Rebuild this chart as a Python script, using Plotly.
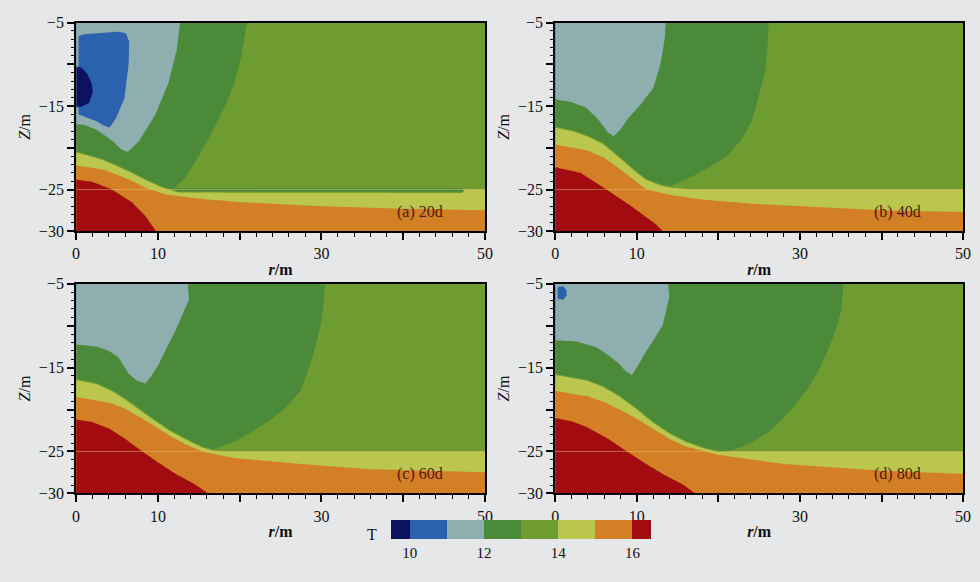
import numpy as np
import plotly.graph_objects as go

# ---------------- data (r in m, Z in m) ----------------
LEVELS = [10, 11, 12, 13, 14, 15, 16]
BAND_COLORS = ["#0c1160", "#2a62ad", "#8eaeb0", "#4b8a38", "#6e9c30",
               "#bac64e", "#d27f26", "#a20c10"]
PANEL_LABELS = ["(a) 20d", "(b) 40d", "(c) 60d", "(d) 80d"]
X_TICKS = [0, 10, 20, 30, 40, 50]
X_TICKTEXT = ["0", "10", "", "30", "", "50"]
Y_TICKS = [-5, -10, -15, -20, -25, -30]
Y_TICKTEXT = ["\u22125", "", "\u221215", "", "\u221225", "\u221230"]
CBAR_TICKS = [10, 12, 14, 16]
INTERFACE_Z = -25

# isolines as (r, Z) points: upper edge of the T>14, T>15, T>16 zones
A_ISO14 = [(0, -20.3), (3.3, -21.4), (6.5, -22.8), (8.5, -23.8), (10.5, -24.7),
           (12.5, -25.3), (47.2, -25.35), (47.6, -25.0), (50, -25.0)]
A_ISO15 = [(0, -22.05), (3.3, -22.6), (6.5, -23.8), (8.5, -24.8), (11, -25.6),
           (15, -26.1), (20, -26.5), (30, -27.0), (40, -27.3), (50, -27.5)]
A_ISO16 = [(0, -23.7), (2, -24.1), (4.2, -24.9), (6.8, -26.5), (8.5, -28.2),
           (10.2, -30.2)]
# closed zones: T<13, T<12, T<11, T<10
A_ZONE13 = [(0, -5), (21, -5), (20.2, -9), (19.2, -12.8), (17.4, -16.6),
            (15.3, -20.5), (13.3, -23.6), (12, -24.85), (47.3, -24.85),
            (47.3, -30), (0, -30)]
A_ZONE12 = [(0, -5), (12.8, -5), (12.3, -8.3), (11.3, -12.2), (9.7, -16.0),
            (7.7, -19.2), (6.3, -20.5), (5.5, -20.2), (4.5, -19.2), (2.45, -17.8),
            (0.8, -17.2), (0, -17.2)]
A_ZONE11 = [(0.3, -6.6), (1, -6.4), (5.2, -6.1), (6.1, -6.3), (6.5, -7.3),
            (6.4, -10.2), (5.9, -14.1), (4.9, -16.4), (4.1, -17.6), (3.3, -17.3),
            (2.45, -16.8), (0.85, -16.2), (0.3, -16.0)]
A_ZONE10 = [(0, -10.2), (0.7, -10.4), (1.4, -11.2), (1.9, -12.3), (2.05, -13.3),
            (1.6, -14.6), (0.6, -15.1), (0, -15.1)]

B_ISO14 = [(0, -17.4), (2.3, -18), (4, -18.6), (5.9, -19.5), (7.5, -20.8),
           (8.8, -21.9), (10, -22.9), (11.2, -23.8), (12.8, -24.4), (14.4, -24.8),
           (17, -25.0), (50, -25.0)]
B_ISO15 = [(0, -19.5), (3.9, -20.3), (6, -21.2), (8, -22.6), (9.6, -23.8),
           (11.2, -25.0), (14.4, -25.7), (18, -26.2), (24.1, -26.7), (32.2, -27.1),
           (40.3, -27.5), (50, -27.7)]
B_ISO16 = [(0, -22.2), (3.1, -23), (6.3, -25), (9.2, -26.9), (12.4, -29.2),
           (13.8, -30.2)]
B_ZONE13 = [(0, -5), (26.2, -5), (26, -8), (25.7, -11), (24.9, -14), (24.1, -16.8),
            (22.7, -19.2), (20.9, -21.1), (18.8, -22.4), (16.9, -23.4),
            (14.4, -24.5), (13, -25), (13, -30), (0, -30)]
B_ZONE12 = [(0, -5), (13.6, -5), (13.4, -7.1), (12.9, -10), (12, -12.9),
            (10.4, -14.9), (9.0, -16.4), (8.0, -17.8), (7.2, -18.6), (6.5, -18.2),
            (5.2, -16.5), (3.8, -15.2), (1.9, -14.5), (0, -14.1)]

C_ISO14 = [(0, -16.3), (2.5, -16.9), (4.5, -17.8), (6.1, -18.8), (7.8, -20.0),
           (9.5, -21.2), (11.5, -22.5), (13.6, -23.6), (15.5, -24.5), (17.4, -25.0),
           (50, -25.0)]
C_ISO15 = [(0, -18.4), (4.1, -19.2), (6, -19.9), (8.1, -21.1), (9.8, -22.1),
           (11.4, -23.1), (13.5, -24.2), (15.4, -25), (19.4, -25.8), (27.5, -26.5),
           (35.5, -27.1), (50, -27.5)]
C_ISO16 = [(0, -21.1), (2, -21.5), (4.1, -22.3), (6, -23.5), (8.1, -25),
           (10, -26.3), (12.2, -27.7), (14.5, -28.9), (17, -30.2)]
C_ZONE13 = [(0, -5), (30.5, -5), (30.2, -8), (29.9, -9.9), (29, -13.5),
            (27.5, -17.7), (25.5, -19.9), (23.4, -21.5), (21.2, -22.8),
            (19.4, -23.8), (17.4, -24.5), (16.5, -25), (16.5, -30), (0, -30)]
C_ZONE12 = [(0, -5), (13.6, -5), (13.8, -6.9), (12.1, -10.7), (11.0, -12.8),
            (10.1, -14.6), (9.2, -16.0), (8.45, -16.9), (7.5, -16.6), (6.4, -15.7),
            (5.2, -13.8), (4, -13), (2.5, -12.5), (0, -12.2)]

D_ISO14 = [(0, -15.7), (3.9, -16.5), (6, -17.3), (7.9, -18.4), (10, -19.9),
           (12, -21.5), (14, -22.8), (16, -23.8), (18, -24.5), (20, -25),
           (50, -25)]
D_ISO15 = [(0, -17.7), (3.9, -18.4), (6, -19.1), (7.9, -20), (10, -21.1),
           (12, -22.3), (14, -23.5), (16, -24.4), (20, -25.4), (28, -26.5),
           (40.2, -27.3), (50, -27.7)]
D_ISO16 = [(0, -20.9), (2, -21.4), (3.9, -22.1), (6.5, -23.5), (8.8, -25),
           (11, -26.4), (13.2, -27.7), (15.6, -28.9), (18, -30.2)]
D_ZONE13 = [(0, -5), (35.4, -5), (35.1, -8), (34.6, -9.9), (33.5, -12.8),
            (32.1, -15.7), (30.8, -17.7), (29.3, -19.6), (27.8, -21.2),
            (26.1, -22.7), (24.3, -23.8), (22.5, -24.6), (21, -25), (21, -30), (0, -30)]
D_ZONE12 = [(0, -5), (13.8, -5), (14, -6.5), (13.2, -9.9), (12.2, -11.5),
            (11.2, -13), (10.3, -14.5), (9.4, -15.9), (8.5, -15.3), (7.9, -14.6),
            (6.5, -13.5), (5.1, -12.6), (2.7, -11.9), (0, -11.7)]
D_ZONE11 = [(0.3, -5.4), (1.0, -5.3), (1.4, -5.8), (1.4, -6.4), (1.0, -6.9),
            (0.3, -6.8)]

PANELS = [
    dict(iso=[A_ISO14, A_ISO15, A_ISO16], zones=[A_ZONE13, A_ZONE12, A_ZONE11, A_ZONE10]),
    dict(iso=[B_ISO14, B_ISO15, B_ISO16], zones=[B_ZONE13, B_ZONE12]),
    dict(iso=[C_ISO14, C_ISO15, C_ISO16], zones=[C_ZONE13, C_ZONE12]),
    dict(iso=[D_ISO14, D_ISO15, D_ISO16], zones=[D_ZONE13, D_ZONE12, D_ZONE11]),
]

# ---------------- build the temperature tables from the read isolines ----------------
R_MIN, R_MAX, Z_MIN, Z_MAX = 0, 50, -30, -5
r_axis = np.linspace(R_MIN, R_MAX, 251)
z_axis = np.linspace(Z_MIN, Z_MAX, 251)
RR, ZZ = np.meshgrid(r_axis, z_axis)
EDGE = 0.6     # zones touching the frame are pushed just outside it
BLEND = 0.25   # width of the numeric transition across an isoline


def push_out(poly):
    out = []
    for r, z in poly:
        if r <= R_MIN:
            r = R_MIN - EDGE
        if r >= R_MAX:
            r = R_MAX + EDGE
        if z >= Z_MAX:
            z = Z_MAX + EDGE
        if z <= Z_MIN:
            z = Z_MIN - EDGE
        out.append((r, z))
    return np.array(out, float)


def inside(P, R, Z):
    res = np.zeros(R.shape, bool)
    n = len(P)
    j = n - 1
    for i in range(n):
        ri, zi = P[i]
        rj, zj = P[j]
        cond = (zi > Z) != (zj > Z)
        dz = (zj - zi) if zj != zi else 1e-12
        xint = (rj - ri) * (Z - zi) / dz + ri
        res ^= cond & (R < xint)
        j = i
    return res


def signed_distance(P, R, Z):
    d2 = np.full(R.shape, np.inf)
    n = len(P)
    for i in range(n):
        a = P[i]
        b = P[(i + 1) % n]
        ab = b - a
        L = float(ab @ ab)
        if L == 0:
            continue
        t = np.clip(((R - a[0]) * ab[0] + (Z - a[1]) * ab[1]) / L, 0, 1)
        dx = R - (a[0] + t * ab[0])
        dz = Z - (a[1] + t * ab[1])
        d2 = np.minimum(d2, dx * dx + dz * dz)
    d = np.sqrt(d2)
    return np.where(inside(P, R, Z), -d, d)


def blend_in(T, P, value):
    w = np.clip(0.5 - signed_distance(P, RR, ZZ) / BLEND, 0, 1)
    return T * (1 - w) + value * w


def build_table(panel):
    T = np.full(RR.shape, 13.5)
    for poly, v in zip(panel["zones"], [12.5, 11.5, 10.5, 9.5]):
        T = blend_in(T, push_out(poly), v)
    for iso, v in zip(panel["iso"], [14.5, 15.5, 16.5]):
        P = push_out(iso)
        P = np.vstack([P, [[P[-1][0], Z_MIN - 1.5], [R_MIN - EDGE, Z_MIN - 1.5]]])
        T = blend_in(T, P, v)
    return np.round(T, 3)


n_b = len(BAND_COLORS)
colorscale = [[i / (n_b - 1), c] for i, c in enumerate(BAND_COLORS)]

FONT = "Liberation Serif"
W, H = 980, 582
dom_x = [[73 / W, 487 / W], [558 / W, 971 / W], [73 / W, 487 / W], [558 / W, 971 / W]]
dom_y = [[1 - 230 / H, 1 - 15 / H], [1 - 230 / H, 1 - 15 / H],
         [1 - 500 / H, 1 - 284 / H], [1 - 500 / H, 1 - 284 / H]]

fig = go.Figure()
for k, panel in enumerate(PANELS):
    sfx = "" if k == 0 else str(k + 1)
    T = build_table(panel)
    fig.add_trace(go.Contour(
        x=r_axis, y=z_axis, z=T,
        xaxis="x" + sfx, yaxis="y" + sfx,
        autocontour=False,
        contours=dict(start=LEVELS[0], end=LEVELS[-1], size=1, coloring="fill"),
        colorscale=colorscale,
        line=dict(width=0),
        hoverinfo="skip",
        showscale=(k == 0),
        colorbar=dict(
            orientation="h", x=523.5 / W, xanchor="center",
            y=1 - 563 / H, yanchor="bottom",
            len=263 / W, lenmode="fraction", thickness=19,
            outlinewidth=0, tickvals=CBAR_TICKS, ticks="",
            tickfont=dict(family=FONT, size=15, color="#111"),
            xpad=0, ypad=0,
        ),
    ))
    fig.add_trace(go.Scatter(
        x=[R_MIN, R_MAX], y=[INTERFACE_Z, INTERFACE_Z],
        xaxis="x" + sfx, yaxis="y" + sfx, mode="lines",
        line=dict(color="rgba(235,185,110,0.5)", width=1),
        hoverinfo="skip", showlegend=False,
    ))
    fig.add_annotation(
        x=42, y=-27.7, xref="x" + sfx, yref="y" + sfx, text=PANEL_LABELS[k],
        showarrow=False, font=dict(family=FONT, size=16, color="#4e1a10"),
    )

axis_common = dict(
    showline=True, linewidth=2, linecolor="black", mirror=True,
    ticks="outside", tickwidth=2, ticklen=7, tickcolor="black",
    showgrid=False, zeroline=False,
    tickfont=dict(family=FONT, size=16, color="#111"),
)
layout = {}
for k in range(4):
    sfx = "" if k == 0 else str(k + 1)
    layout["xaxis" + sfx] = dict(
        axis_common, domain=dom_x[k], range=[R_MIN, R_MAX], anchor="y" + sfx,
        tickmode="array", tickvals=X_TICKS, ticktext=X_TICKTEXT,
        minor=dict(dtick=2, tick0=0, ticks="outside", ticklen=4, tickwidth=1,
                   tickcolor="black"),
        title=dict(text="<b><i>r</i>/m</b>",
                   font=dict(family=FONT, size=16, color="#111"), standoff=2),
    )
    layout["yaxis" + sfx] = dict(
        axis_common, domain=dom_y[k], range=[Z_MIN, Z_MAX], anchor="x" + sfx,
        tickmode="array", tickvals=Y_TICKS, ticktext=Y_TICKTEXT,
        minor=dict(dtick=1, tick0=0, ticks="outside", ticklen=3, tickwidth=1,
                   tickcolor="black"),
        title=dict(text="<i>Z</i>/m", font=dict(family=FONT, size=16, color="#111"),
                   standoff=4),
    )

fig.update_layout(
    width=W, height=H, margin=dict(l=0, r=0, t=0, b=0),
    paper_bgcolor="#e6e7e9", plot_bgcolor="#e6e7e9",
    showlegend=False, hovermode=False,
    **layout,
)
fig.add_annotation(x=373 / W, y=1 - 553 / H, xref="paper", yref="paper", text="T",
                   showarrow=False, font=dict(family=FONT, size=16, color="#111"))

fig.write_html("out.html")
